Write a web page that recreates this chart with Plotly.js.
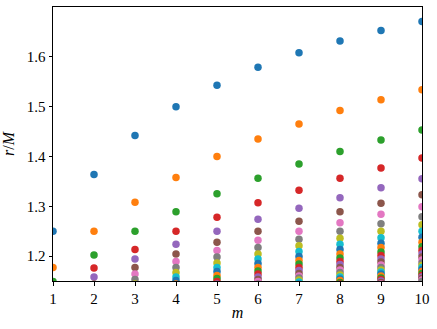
<!DOCTYPE html>
<html>
<head>
<meta charset="utf-8">
<script src="https://cdn.plot.ly/plotly-3.0.1.min.js"></script>
<style>
  html, body { margin: 0; padding: 0; background: #fff; }
  #graph { width: 437px; height: 329px; }
</style>
</head>
<body>
<div id="graph"></div>
<script>
// m on the x axis, one series per n (values of r/M)
var m_values = [1, 2, 3, 4, 5, 6, 7, 8, 9, 10];

var r_n1 = [1.250, 1.364, 1.442, 1.500, 1.543, 1.579, 1.608, 1.632, 1.653, 1.671];
var r_n2 = [1.177, 1.250, 1.308, 1.358, 1.400, 1.435, 1.465, 1.492, 1.514, 1.534];
var r_n3 = [1.149, 1.202, 1.250, 1.289, 1.325, 1.356, 1.385, 1.410, 1.433, 1.453];
var r_n4 = [1.125, 1.176, 1.213, 1.250, 1.278, 1.307, 1.332, 1.356, 1.377, 1.397];
var r_n5 = [1.112, 1.158, 1.194, 1.224, 1.250, 1.274, 1.296, 1.317, 1.337, 1.355];
var r_n6 = [1.102, 1.144, 1.177, 1.204, 1.228, 1.250, 1.270, 1.289, 1.306, 1.323];
var r_n7 = [1.095, 1.134, 1.164, 1.189, 1.211, 1.232, 1.250, 1.267, 1.284, 1.299];
var r_n8 = [1.088, 1.125, 1.153, 1.177, 1.198, 1.217, 1.234, 1.250, 1.265, 1.279];
var r_n9 = [1.083, 1.118, 1.144, 1.167, 1.186, 1.204, 1.221, 1.236, 1.250, 1.263];
var r_n10 = [1.079, 1.112, 1.137, 1.158, 1.177, 1.194, 1.209, 1.224, 1.237, 1.250];
var r_n11 = [1.075, 1.107, 1.131, 1.151, 1.169, 1.185, 1.199, 1.213, 1.226, 1.238];
var r_n12 = [1.072, 1.102, 1.125, 1.144, 1.161, 1.177, 1.191, 1.204, 1.217, 1.228];
var r_n13 = [1.069, 1.098, 1.120, 1.139, 1.155, 1.170, 1.184, 1.196, 1.208, 1.219];
var r_n14 = [1.067, 1.095, 1.116, 1.134, 1.149, 1.164, 1.177, 1.189, 1.201, 1.211];
var r_n15 = [1.065, 1.091, 1.112, 1.129, 1.144, 1.158, 1.171, 1.183, 1.194, 1.204];
var r_n16 = [1.063, 1.088, 1.108, 1.125, 1.140, 1.153, 1.165, 1.177, 1.188, 1.198];
var r_n17 = [1.061, 1.086, 1.105, 1.121, 1.136, 1.149, 1.160, 1.172, 1.182, 1.192];
var r_n18 = [1.059, 1.083, 1.102, 1.118, 1.132, 1.144, 1.156, 1.167, 1.177, 1.186];
var r_n19 = [1.057, 1.081, 1.099, 1.115, 1.128, 1.141, 1.152, 1.162, 1.172, 1.181];
var r_n20 = [1.056, 1.079, 1.097, 1.112, 1.125, 1.137, 1.148, 1.158, 1.168, 1.177];
var r_n21 = [1.055, 1.077, 1.095, 1.109, 1.122, 1.134, 1.144, 1.154, 1.164, 1.173];
var r_n22 = [1.053, 1.075, 1.092, 1.107, 1.119, 1.131, 1.141, 1.151, 1.160, 1.169];
var r_n23 = [1.052, 1.074, 1.090, 1.104, 1.117, 1.128, 1.138, 1.147, 1.156, 1.165];
var r_n24 = [1.051, 1.072, 1.088, 1.102, 1.114, 1.125, 1.135, 1.144, 1.153, 1.161];
var r_n25 = [1.050, 1.071, 1.087, 1.100, 1.112, 1.123, 1.132, 1.141, 1.150, 1.158];
var r_n26 = [1.049, 1.069, 1.085, 1.098, 1.110, 1.120, 1.130, 1.139, 1.147, 1.155];
var r_n27 = [1.048, 1.068, 1.083, 1.096, 1.108, 1.118, 1.127, 1.136, 1.144, 1.152];
var r_n28 = [1.047, 1.067, 1.082, 1.095, 1.106, 1.116, 1.125, 1.134, 1.142, 1.149];

var all_series = [r_n1, r_n2, r_n3, r_n4, r_n5, r_n6, r_n7, r_n8, r_n9, r_n10,
  r_n11, r_n12, r_n13, r_n14, r_n15, r_n16, r_n17, r_n18, r_n19, r_n20,
  r_n21, r_n22, r_n23, r_n24, r_n25, r_n26, r_n27, r_n28];

// matplotlib default colour cycle
var tab10 = ["#1f77b4", "#ff7f0e", "#2ca02c", "#d62728", "#9467bd",
  "#8c564b", "#e377c2", "#7f7f7f", "#bcbd22", "#17becf"];

var y_ticks = [1.2, 1.3, 1.4, 1.5, 1.6];

var traces = [];
for (var i = 0; i < all_series.length; i++) {
  traces.push({
    x: m_values,
    y: all_series[i],
    mode: "markers",
    type: "scatter",
    name: "n = " + (i + 1),
    marker: { color: tab10[i % 10], size: 7.5, line: { width: 0 } },
    cliponaxis: true,
    hoverinfo: "x+y",
  });
}

var font_family = "'Liberation Serif', 'DejaVu Serif', serif";

Plotly.newPlot(
  "graph",
  traces,
  {
    width: 437,
    height: 329,
    margin: { l: 53, r: 15, t: 7, b: 48 },
    paper_bgcolor: "#fff",
    plot_bgcolor: "#fff",
    showlegend: false,
    font: { family: font_family, size: 15, color: "#000" },
    xaxis: {
      range: [1, 10],
      tickvals: m_values,
      ticks: "outside",
      ticklen: 3.5,
      tickwidth: 1,
      tickcolor: "#000",
      showline: true,
      mirror: true,
      linecolor: "#000",
      linewidth: 1,
      showgrid: false,
      zeroline: false,
      title: { text: "<i>m</i>", font: { family: font_family, size: 16 }, standoff: 1 },
      fixedrange: true,
    },
    yaxis: {
      range: [1.15, 1.7],
      tickvals: y_ticks,
      ticktext: y_ticks.map(function (v) { return v.toFixed(1); }),
      ticks: "outside",
      ticklen: 3.5,
      tickwidth: 1,
      tickcolor: "#000",
      showline: true,
      mirror: true,
      linecolor: "#000",
      linewidth: 1,
      showgrid: false,
      zeroline: false,
      title: { text: "<i>r</i>/<i>M</i>", font: { family: font_family, size: 16 }, standoff: 8 },
      fixedrange: true,
    },
  },
  { displayModeBar: false, staticPlot: true }
);
</script>
</body>
</html>
